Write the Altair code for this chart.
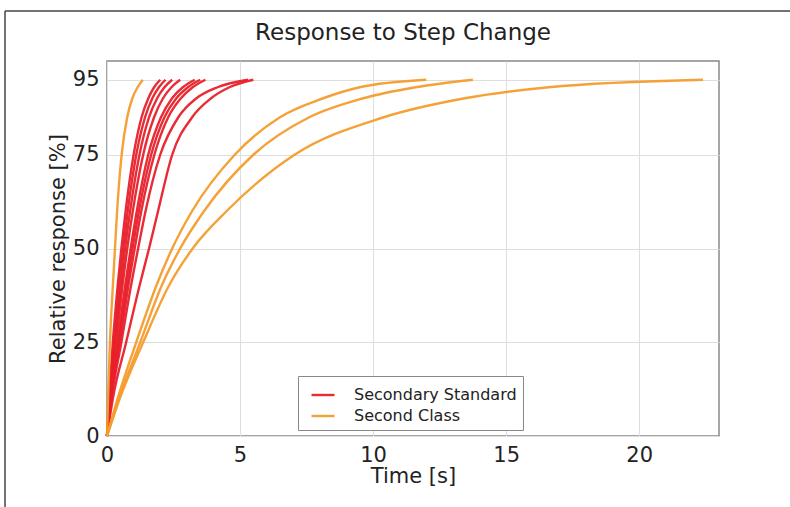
import altair as alt
import pandas as pd

LEVELS = [0, 10, 25, 40, 50, 60, 75, 85, 90, 93, 95]

# Secondary Standard curves (times in s at each level)
SEC_STD = {
    "S1": [0, 0.08, 0.22, 0.40, 0.54, 0.70, 1.00, 1.30, 1.55, 1.77, 2.00],
    "S2": [0, 0.09, 0.26, 0.46, 0.61, 0.78, 1.10, 1.43, 1.70, 1.95, 2.20],
    "S3": [0, 0.10, 0.30, 0.52, 0.68, 0.87, 1.22, 1.58, 1.88, 2.16, 2.45],
    "S4": [0, 0.11, 0.34, 0.58, 0.76, 0.97, 1.36, 1.77, 2.10, 2.42, 2.75],
    "S5": [0, 0.13, 0.40, 0.68, 0.89, 1.12, 1.55, 2.03, 2.44, 2.85, 3.30],
    "S6": [0, 0.14, 0.44, 0.74, 0.96, 1.20, 1.66, 2.16, 2.60, 3.04, 3.50],
    "S7": [0, 0.15, 0.48, 0.80, 1.04, 1.29, 1.78, 2.30, 2.77, 3.22, 3.70],
    "S8": [0, 0.17, 0.54, 0.90, 1.17, 1.45, 2.00, 2.68, 3.35, 4.15, 5.30],
    "S9": [0, 0.22, 0.72, 1.22, 1.58, 1.92, 2.45, 3.20, 3.90, 4.60, 5.50],
}

# Second Class curves
SECOND_CLASS = {
    "T1": [0, 0.04, 0.11, 0.22, 0.30, 0.38, 0.55, 0.76, 0.95, 1.15, 1.35],
    "T2": [0, 0.40, 1.10, 1.85, 2.45, 3.20, 4.80, 6.50, 8.10, 9.50, 12.0],
    "T3": [0, 0.45, 1.25, 2.05, 2.75, 3.65, 5.50, 7.60, 9.60, 11.6, 13.75],
    "T4": [0, 0.48, 1.36, 2.32, 3.22, 4.50, 7.05, 10.4, 13.4, 16.6, 22.4],
}

GROUPS = ["Secondary Standard", "Second Class"]
COLORS = ["#e8202a", "#f49c2c"]
X_TICKS = [0, 5, 10, 15, 20]
Y_TICKS = [0, 25, 50, 75, 95]

rows = []
for group, curves in zip(GROUPS, [SEC_STD, SECOND_CLASS]):
    for cid, times in curves.items():
        for t, r in zip(times, LEVELS):
            rows.append({"t": t, "r": r, "curve": cid, "group": group})
df = pd.DataFrame(rows)

FONT = "DejaVu Sans"

lines = alt.Chart(df).mark_line(
    interpolate="monotone", strokeWidth=2.4, opacity=0.95
).encode(
    x=alt.X("t:Q", title="Time [s]",
            scale=alt.Scale(domain=[0, 23], nice=False),
            axis=alt.Axis(values=X_TICKS, format="d")),
    y=alt.Y("r:Q", title="Relative response [%]",
            scale=alt.Scale(domain=[0, 100], nice=False),
            axis=alt.Axis(values=Y_TICKS, format="d")),
    detail="curve:N",
    color=alt.Color("group:N", title=None,
                    scale=alt.Scale(domain=GROUPS, range=COLORS),
                    legend=alt.Legend(
                        orient="none", legendX=191, legendY=315,
                        symbolType="stroke", symbolSize=529,
                        symbolStrokeWidth=2.4, symbolOffset=6,
                        labelFontSize=16,
                        labelFont=FONT, labelColor="#222", labelLimit=400,
                        labelOffset=18, rowPadding=0,
                        padding=6, fillColor="white",
                        strokeColor="#888", cornerRadius=0)),
)

frame_df = pd.DataFrame({"k": [0]})
frame_left = alt.Chart(frame_df).mark_rule(color="#444", strokeWidth=1.5).encode(
    x=alt.value(-102), y=alt.value(-50), y2=alt.value(446))
frame_top = alt.Chart(frame_df).mark_rule(color="#444", strokeWidth=1.5).encode(
    x=alt.value(-102), x2=alt.value(683), y=alt.value(-50))

chart = alt.layer(lines, frame_left, frame_top).properties(
    width=612, height=375,
    autosize=alt.AutoSizeParams(type="none"),
    padding={"left": 107, "top": 61, "right": 71, "bottom": 71},
    title=alt.TitleParams("Response to Step Change", fontSize=23,
                          font=FONT, fontWeight="normal", color="#222",
                          anchor="middle", frame="group",
                          offset=-35, dx=-10),
).configure(
    background="white"
).configure_view(
    stroke="#888", strokeWidth=1.5
).configure_axis(
    grid=True, gridColor="#dedede", gridWidth=1,
    domain=False, ticks=False, labelFlush=False,
    labelFont=FONT, labelFontSize=21, labelColor="#222",
    titleFont=FONT, titleFontSize=21, titleColor="#222",
    titleFontWeight="normal",
).configure_axisX(
    labelPadding=8, titlePadding=0
).configure_axisY(
    labelPadding=8, titlePadding=4
)

chart.save("out.html", embed_options={"renderer": "svg", "actions": False})
